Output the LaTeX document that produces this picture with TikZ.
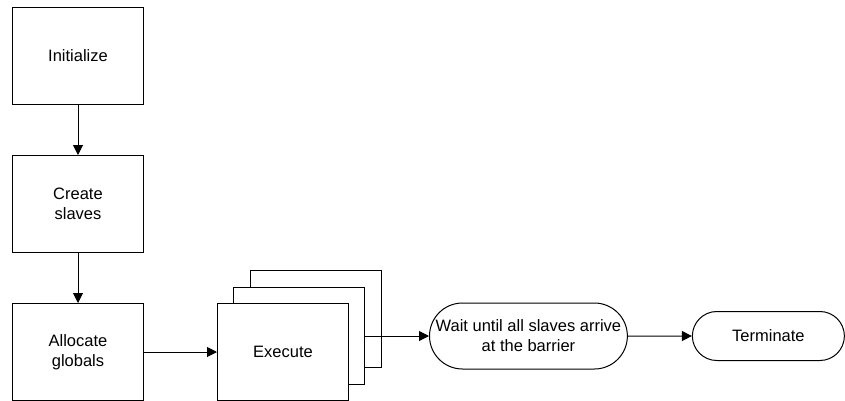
\documentclass[tikz,border=0pt]{standalone}
\usepackage{fontspec}
\setmainfont{Liberation Sans}
\usetikzlibrary{positioning,shapes.misc,arrows.meta,backgrounds}

\begin{document}
\begin{tikzpicture}[
  stepbox/.style={rectangle, draw, line width=1pt, fill=white,
    minimum width=131pt, minimum height=97pt,
    align=center, font=\fontsize{16.5}{20}\selectfont},
  pill/.style={rounded rectangle, draw, line width=1pt, fill=white,
    inner sep=2pt, align=center, font=\fontsize{16.5}{20}\selectfont},
  arrow/.style={-{Triangle[length=10pt,width=10pt]}, line width=1pt}
]
\useasboundingbox (0,0) rectangle (845pt,-400pt);

\node[stepbox] (init) at (78pt,-56pt) {Initialize};
\node[stepbox, below=50pt of init] (create) {Create\\slaves};
\node[stepbox, below=50pt of create] (alloc) {Allocate\\globals};
\node[stepbox, right=73pt of alloc] (exec1) {Execute};

% copies of the execute box behind the front one
\begin{scope}[on background layer]
  \node[stepbox] (exec3) at ([shift={(33pt,33pt)}]exec1) {};
  \node[stepbox] (exec2) at ([shift={(16pt,16pt)}]exec1) {};
\end{scope}

\node[pill, minimum width=196pt, minimum height=66pt, right=64pt of exec2] (wait)
  {Wait until all slaves arrive\\at the barrier};
\node[pill, minimum width=156pt, minimum height=49pt, right=64pt of wait] (term) {Terminate};

\draw[arrow] (init) -- (create);
\draw[arrow] (create) -- (alloc);
\draw[arrow] (alloc) -- (exec1);
\draw[arrow] (exec2.east) -- (wait.west);
\draw[arrow] (wait) -- (term);
\end{tikzpicture}
\end{document}
